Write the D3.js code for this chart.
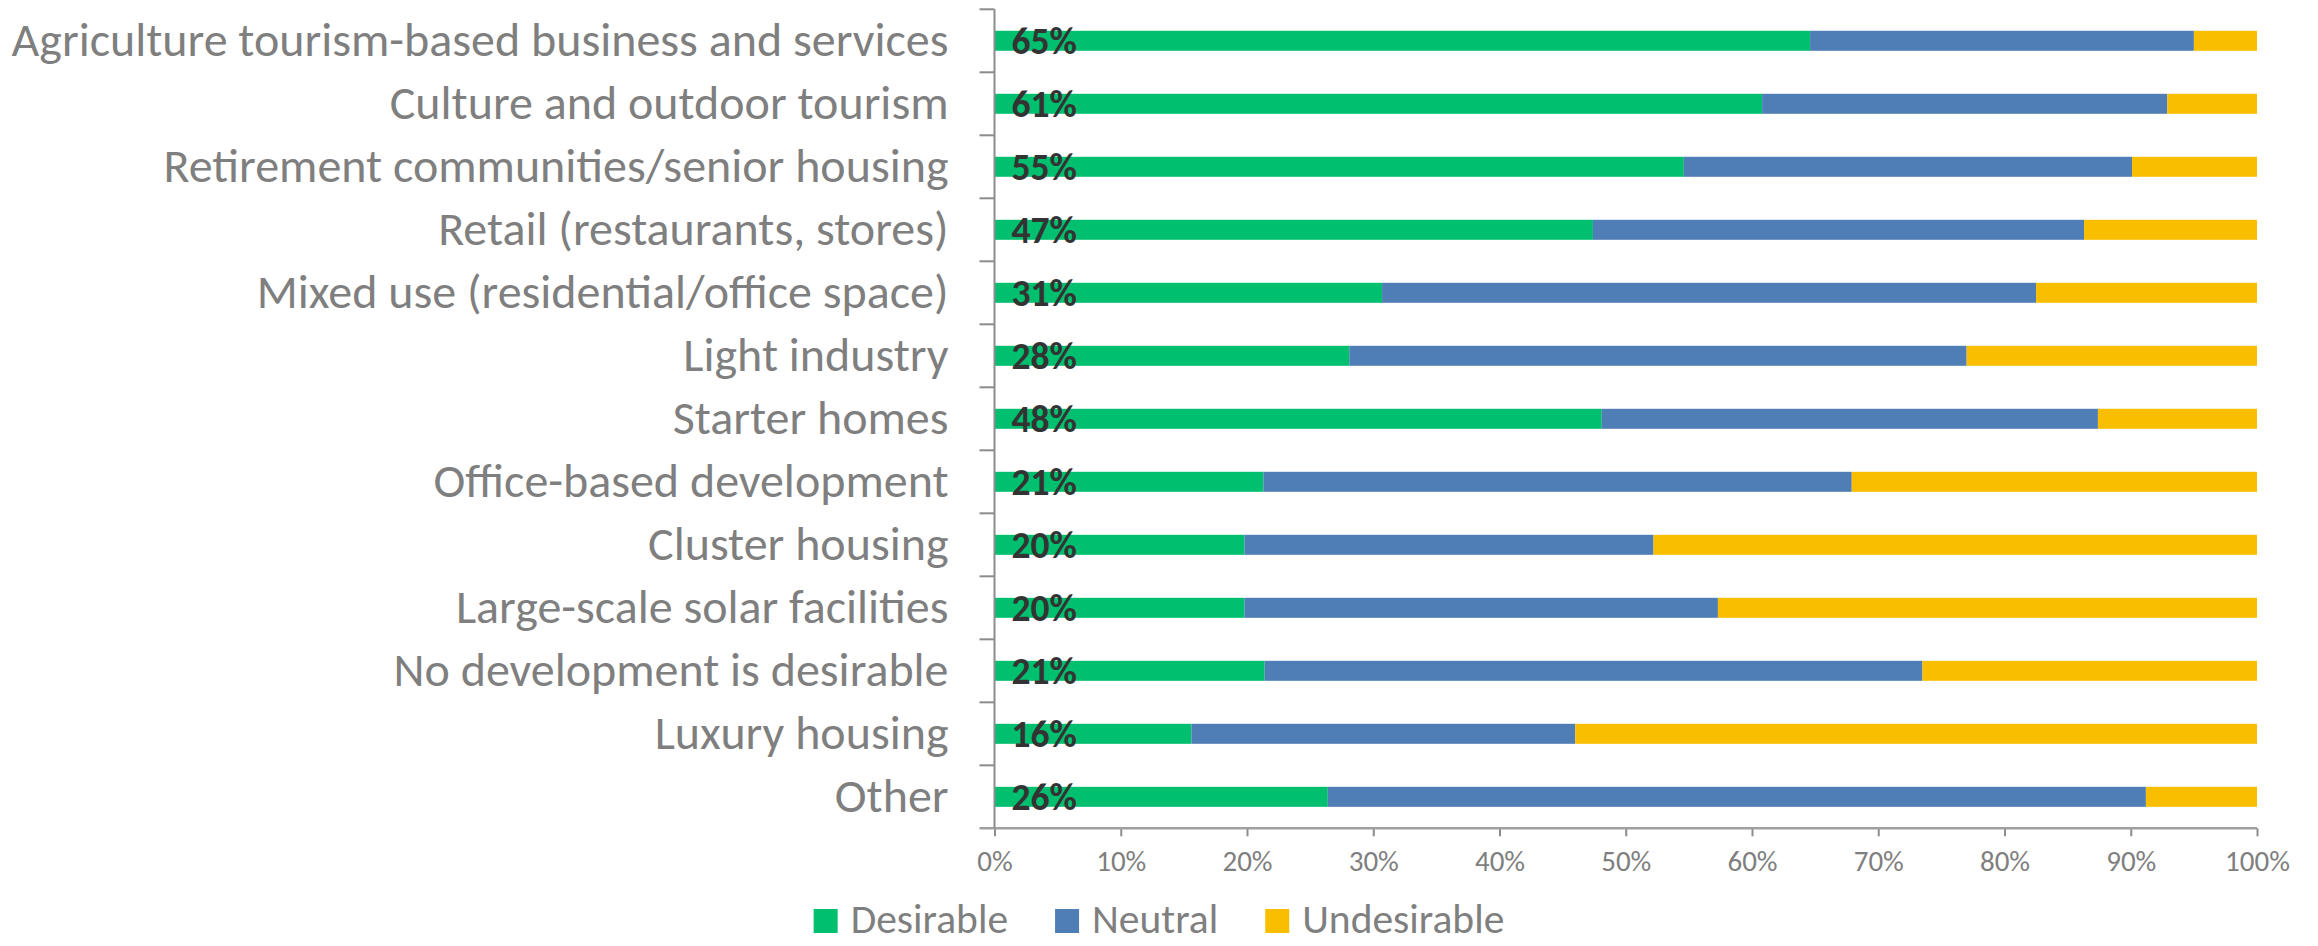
<!DOCTYPE html>
<html>
<head>
<meta charset="utf-8">
<script src="https://cdn.jsdelivr.net/npm/d3@7"></script>
<style>
  body { margin: 0; background: #fff; }
  svg { display: block; font-family: Carlito, Calibri, Lato, sans-serif; }
</style>
</head>
<body>
<div id="chart"></div>
<script>
// categories top to bottom
const categories = [
  "Agriculture tourism-based business and services",
  "Culture and outdoor tourism",
  "Retirement communities/senior housing",
  "Retail (restaurants, stores)",
  "Mixed use (residential/office space)",
  "Light industry",
  "Starter homes",
  "Office-based development",
  "Cluster housing",
  "Large-scale solar facilities",
  "No development is desirable",
  "Luxury housing",
  "Other"
];
// percent of responses
const desirable   = [64.6, 60.8, 54.6, 47.4, 30.7, 28.1, 48.1, 21.3, 19.8, 19.8, 21.4, 15.6, 26.4];
const neutral     = [30.4, 32.1, 35.5, 38.9, 51.8, 48.9, 39.3, 46.6, 32.4, 37.5, 52.1, 30.4, 64.8];
const undesirable = desirable.map((d, i) => 100 - d - neutral[i]);

const seriesNames = ["Desirable", "Neutral", "Undesirable"];
const xTicks = [0, 10, 20, 30, 40, 50, 60, 70, 80, 90, 100];

const colors = ["#00bf6f", "#4f7db6", "#fabe00"];

const width = 2318, height = 946;
const plotLeft = 994.5, plotRight = 2257, plotTop = 9.3, plotBottom = 828.3;

const svg = d3.select("#chart").append("svg")
    .attr("width", width)
    .attr("height", height);

const rows = categories.map((c, i) => ({
    category: c,
    Desirable: desirable[i],
    Neutral: neutral[i],
    Undesirable: undesirable[i]
}));

const stacked = d3.stack().keys(seriesNames)(rows);

const x = d3.scaleLinear().domain([0, 100]).range([plotLeft, plotRight]);

const y = d3.scaleBand()
    .domain(categories)
    .range([plotTop, plotBottom])
    .paddingInner(0.6825)
    .paddingOuter(0.341);

// bars
svg.selectAll("g.series")
    .data(stacked)
    .enter()
    .append("g")
    .attr("class", "series")
    .attr("fill", (d, i) => colors[i])
    .selectAll("rect")
    .data(d => d)
    .enter()
    .append("rect")
    .attr("x", d => x(d[0]))
    .attr("width", d => x(d[1]) - x(d[0]))
    .attr("y", d => y(d.data.category))
    .attr("height", y.bandwidth());

// x axis
const xaxis = d3.axisBottom(x)
    .tickValues(xTicks)
    .tickFormat(d => d + "%")
    .tickSize(8)
    .tickPadding(14);

const gx = svg.append("g")
    .attr("transform", `translate(0, ${plotBottom})`)
    .call(xaxis)
    .attr("font-family", null)
    .attr("font-size", null);
gx.select(".domain").remove();
gx.selectAll(".tick line").attr("stroke", "#8c8c8c").attr("stroke-width", 2);
gx.selectAll(".tick text")
    .attr("fill", "#7f7f7f")
    .style("font-size", "29px");
gx.append("line")
    .attr("x1", plotLeft - 15)
    .attr("x2", plotRight)
    .attr("stroke", "#a0a0a0")
    .attr("stroke-width", 2.5);

// y axis, labels only, ticks sit between categories
const yaxis = d3.axisLeft(y).tickSize(0).tickPadding(46);
const gy = svg.append("g")
    .attr("transform", `translate(${plotLeft}, 0)`)
    .call(yaxis)
    .attr("font-family", null)
    .attr("font-size", null);
gy.select(".domain").remove();
gy.selectAll(".tick text")
    .attr("fill", "#7f7f7f")
    .style("font-size", "48px");

svg.append("line")
    .attr("x1", plotLeft).attr("x2", plotLeft)
    .attr("y1", plotTop).attr("y2", plotBottom)
    .attr("stroke", "#8c8c8c")
    .attr("stroke-width", 2);

const boundaries = d3.range(categories.length).map(i => plotTop + i * y.step());
svg.selectAll("line.ytick")
    .data(boundaries)
    .enter()
    .append("line")
    .attr("class", "ytick")
    .attr("x1", plotLeft - 15).attr("x2", plotLeft)
    .attr("y1", d => d).attr("y2", d => d)
    .attr("stroke", "#8c8c8c")
    .attr("stroke-width", 2);

// desirable share labels at bar base
svg.selectAll("text.pct")
    .data(rows)
    .enter()
    .append("text")
    .attr("class", "pct")
    .attr("x", x(0) + 17)
    .attr("y", d => y(d.category) + y.bandwidth() / 2)
    .attr("dy", "0.34em")
    .attr("fill", "#333333")
    .style("font-size", "37.5px")
    .style("font-weight", "bold")
    .text(d => Math.round(d.Desirable) + "%");

// legend, centred on the page
const legend = svg.append("g").attr("class", "legend");
const items = legend.selectAll("g")
    .data(seriesNames)
    .enter()
    .append("g");

items.append("rect")
    .attr("y", 909)
    .attr("width", 24)
    .attr("height", 24)
    .attr("fill", (d, i) => colors[i]);

items.append("text")
    .attr("x", 37)
    .attr("y", 933)
    .attr("fill", "#7f7f7f")
    .style("font-size", "41.5px")
    .text(d => d);

let cursor = 0;
items.each(function () {
    const w = this.getBBox().width;
    d3.select(this).attr("transform", `translate(${cursor}, 0)`);
    cursor += w + 47;
});
const total = cursor - 47;
legend.attr("transform", `translate(${(width - total) / 2}, 0)`);
</script>
</body>
</html>
